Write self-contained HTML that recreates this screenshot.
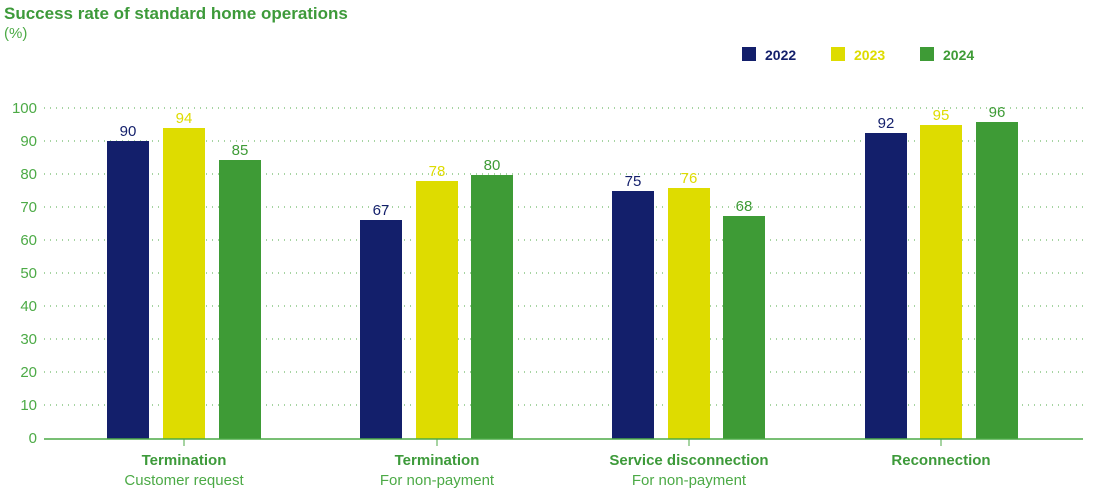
<!DOCTYPE html>
<html><head><style>
body{margin:0;background:#fff;}
text{font-family:"Liberation Sans",sans-serif;}
</style></head><body>
<svg width="1093" height="496" xmlns="http://www.w3.org/2000/svg">
<text x="4" y="19" font-size="17" font-weight="bold" fill="#3d9a3a">Success rate of standard home operations</text>
<text x="4" y="38" font-size="15" fill="#4caa46">(%)</text>
<rect x="742" y="47" width="14" height="14" fill="#131f6b"/>
<text x="765" y="60" font-size="14" font-weight="bold" fill="#131f6b">2022</text>
<rect x="831" y="47" width="14" height="14" fill="#dedc00"/>
<text x="854" y="60" font-size="14" font-weight="bold" fill="#dedc00">2023</text>
<rect x="920" y="47" width="14" height="14" fill="#3e9b36"/>
<text x="943" y="60" font-size="14" font-weight="bold" fill="#3e9b36">2024</text>
<g stroke="#4caa46" stroke-width="1" stroke-dasharray="1,5">
<line x1="44" x2="1083" y1="108" y2="108"/><line x1="44" x2="1083" y1="141" y2="141"/>
<line x1="44" x2="1083" y1="174" y2="174"/><line x1="44" x2="1083" y1="207" y2="207"/>
<line x1="44" x2="1083" y1="240" y2="240"/><line x1="44" x2="1083" y1="273" y2="273"/>
<line x1="44" x2="1083" y1="306" y2="306"/><line x1="44" x2="1083" y1="339" y2="339"/>
<line x1="44" x2="1083" y1="372" y2="372"/><line x1="44" x2="1083" y1="405" y2="405"/>
</g>
<g font-size="15" fill="#4caa46" text-anchor="end">
<text x="37" y="113">100</text><text x="37" y="146">90</text><text x="37" y="179">80</text>
<text x="37" y="212">70</text><text x="37" y="245">60</text><text x="37" y="278">50</text>
<text x="37" y="311">40</text><text x="37" y="344">30</text><text x="37" y="377">20</text>
<text x="37" y="410">10</text><text x="37" y="443">0</text>
</g>
<g>
<rect x="107" y="141" width="42" height="298" fill="#131f6b"/>
<rect x="163" y="128" width="42" height="311" fill="#dedc00"/>
<rect x="219" y="160" width="42" height="279" fill="#3e9b36"/>
<rect x="360" y="220" width="42" height="219" fill="#131f6b"/>
<rect x="416" y="181" width="42" height="258" fill="#dedc00"/>
<rect x="471" y="175" width="42" height="264" fill="#3e9b36"/>
<rect x="612" y="191" width="42" height="248" fill="#131f6b"/>
<rect x="668" y="188" width="42" height="251" fill="#dedc00"/>
<rect x="723" y="216" width="42" height="223" fill="#3e9b36"/>
<rect x="865" y="133" width="42" height="306" fill="#131f6b"/>
<rect x="920" y="125" width="42" height="314" fill="#dedc00"/>
<rect x="976" y="122" width="42" height="317" fill="#3e9b36"/>
</g>
<g font-size="15" text-anchor="middle">
<text x="128" y="136" fill="#131f6b">90</text><text x="184" y="123" fill="#dedc00">94</text><text x="240" y="155" fill="#3e9b36">85</text>
<text x="381" y="215" fill="#131f6b">67</text><text x="437" y="176" fill="#dedc00">78</text><text x="492" y="170" fill="#3e9b36">80</text>
<text x="633" y="186" fill="#131f6b">75</text><text x="689" y="183" fill="#dedc00">76</text><text x="744" y="211" fill="#3e9b36">68</text>
<text x="886" y="128" fill="#131f6b">92</text><text x="941" y="120" fill="#dedc00">95</text><text x="997" y="117" fill="#3e9b36">96</text>
</g>
<line x1="44" x2="1083" y1="439" y2="439" stroke="#4caa46" stroke-width="1.5"/>
<g stroke="#4caa46"><line x1="184" x2="184" y1="439" y2="446"/><line x1="437" x2="437" y1="439" y2="446"/><line x1="689" x2="689" y1="439" y2="446"/><line x1="941" x2="941" y1="439" y2="446"/></g>
<g font-size="15" text-anchor="middle">
<text x="184" y="465" font-weight="bold" fill="#3d9a3a">Termination</text><text x="184" y="485" fill="#4caa46">Customer request</text>
<text x="437" y="465" font-weight="bold" fill="#3d9a3a">Termination</text><text x="437" y="485" fill="#4caa46">For non-payment</text>
<text x="689" y="465" font-weight="bold" fill="#3d9a3a">Service disconnection</text><text x="689" y="485" fill="#4caa46">For non-payment</text>
<text x="941" y="465" font-weight="bold" fill="#3d9a3a">Reconnection</text>
</g>
</svg>
</body></html>
